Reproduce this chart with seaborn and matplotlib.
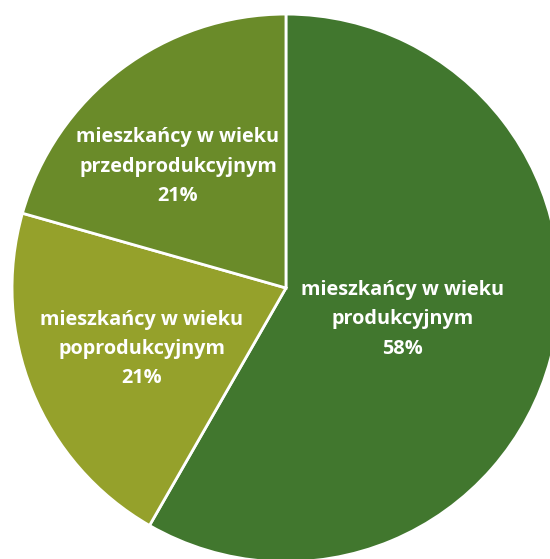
import seaborn as sns
import matplotlib.pyplot as plt

categories = ["produkcyjnym", "poprodukcyjnym", "przedprodukcyjnym"]
values = [58.3, 21.1, 20.6]
colors = ["#41772e", "#95a12b", "#6a8b29"]

# label centers in data units (pie radius = 1)
label_pos = [(0.427, -0.114), (-0.526, -0.223), (-0.394, 0.443)]

sns.set_theme(style="white")
plt.rcParams['font.family'] = ['Open Sans', 'DejaVu Sans']

fig = plt.figure(figsize=(5.5, 5.59), dpi=100)
ax = fig.add_axes([0, 0, 1, 1])

wedges, _ = ax.pie(
	values,
	colors=sns.color_palette(colors),
	startangle=90,
	counterclock=False,
	radius=1,
	wedgeprops={"edgecolor": "white", "linewidth": 2},
)

total = sum(values)
for cat, val, (x, y) in zip(categories, values, label_pos):
	txt = "mieszkańcy w wieku\n%s\n%d%%" % (cat, round(val / total * 100))
	ax.text(x, y, txt, ha="center", va="center", color="white",
		fontsize=14.3, fontweight="bold", linespacing=1.62)

ax.set_xlim(-1.044, 0.964)
ax.set_ylim(-0.989, 1.051)
ax.set_aspect("equal")
ax.axis("off")

fig.savefig("out.png", dpi=100)
